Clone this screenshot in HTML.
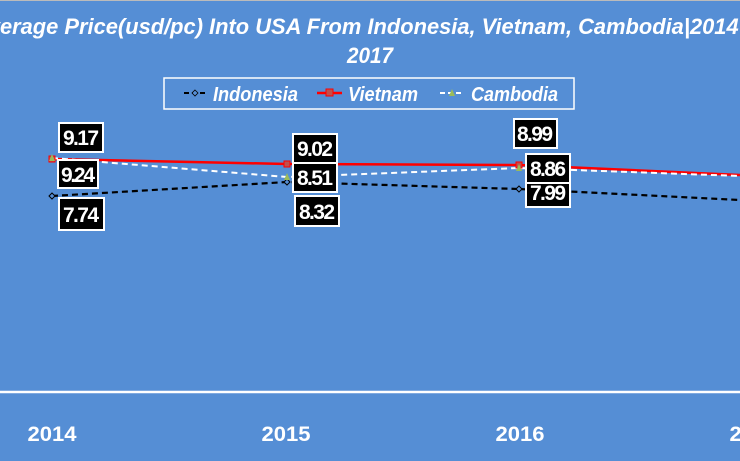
<!DOCTYPE html>
<html><head><style>
html,body{margin:0;padding:0;background:#558ed5;}
svg{display:block;}
text{font-family:"Liberation Sans",sans-serif;font-weight:bold;fill:#fff;}
</style></head><body>
<svg width="740" height="461" viewBox="0 0 740 461">
<rect width="740" height="461" fill="#558ed5"/>
<line x1="0" y1="0.5" x2="740" y2="0.5" stroke="#bbb"/>
<text x="-28" y="34" font-size="22" font-style="italic" textLength="780" lengthAdjust="spacingAndGlyphs">Average Price(usd/pc) Into USA From Indonesia, Vietnam, Cambodia|2014 -</text>
<text x="370" y="63" font-size="22" font-style="italic" text-anchor="middle" textLength="46" lengthAdjust="spacingAndGlyphs">2017</text>
<rect x="164" y="78" width="410" height="31" fill="none" stroke="#fff" stroke-width="1.5"/>
<line x1="184" y1="93" x2="206" y2="93" stroke="#000" stroke-width="2" stroke-dasharray="5,3"/>
<path d="M195 90 L198 93 L195 96 L192 93Z" fill="#558ed5" stroke="#000" stroke-width="0.8"/>
<text x="213" y="101" font-size="20" font-style="italic" textLength="85" lengthAdjust="spacingAndGlyphs">Indonesia</text>
<line x1="317" y1="93" x2="342" y2="93" stroke="#f00" stroke-width="2.5"/>
<rect x="326" y="89" width="7" height="7" fill="#c0504d" stroke="#f00"/>
<text x="348" y="101" font-size="20" font-style="italic" textLength="70" lengthAdjust="spacingAndGlyphs">Vietnam</text>
<line x1="440" y1="93" x2="464" y2="93" stroke="#fff" stroke-width="2" stroke-dasharray="5,3"/>
<path d="M452 89 L455 96 L449 96Z" fill="#9bbb59"/>
<text x="471" y="101" font-size="20" font-style="italic" textLength="87" lengthAdjust="spacingAndGlyphs">Cambodia</text>
<line x1="0" y1="392" x2="740" y2="392" stroke="#fff" stroke-width="2.5"/>
<polyline points="52,196 287,182 519,189 740,200" fill="none" stroke="#000" stroke-width="2.2" stroke-dasharray="6,4"/>
<polyline points="52,159 287,164 519,165 740,175" fill="none" stroke="#f00" stroke-width="2.5"/>
<polyline points="52,158 287,177 519,168 740,176" fill="none" stroke="#fff" stroke-width="2" stroke-dasharray="6,4"/>
<path d="M52 193 L55 196 L52 199 L49 196Z M287 179 L290 182 L287 185 L284 182Z M519 186 L522 189 L519 192 L516 189Z" fill="#558ed5" stroke="#000"/>
<rect x="49" y="156" width="6" height="6" fill="#c0504d" stroke="#f00"/><rect x="284" y="161" width="6" height="6" fill="#c0504d" stroke="#f00"/><rect x="516" y="162" width="6" height="6" fill="#c0504d" stroke="#f00"/>
<path d="M52 154 L55 161 L49 161Z M287 173 L290 180 L284 180Z M519 164 L522 171 L516 171Z" fill="#9bbb59"/>
<g stroke="#fff" stroke-width="2" fill="#000">
<rect x="59" y="123" width="44" height="29"/>
<rect x="58" y="160" width="40" height="28"/>
<rect x="59" y="198" width="45" height="32"/>
<rect x="293" y="134" width="44" height="29"/>
<rect x="293" y="163" width="44" height="29"/>
<rect x="295" y="196" width="44" height="30"/>
<rect x="514" y="119" width="43" height="29"/>
<rect x="526" y="154" width="44" height="29"/>
<rect x="526" y="183" width="44" height="24"/>
</g>
<g font-size="21" text-anchor="middle" lengthAdjust="spacingAndGlyphs">
<text x="81" y="145" textLength="36">9.17</text>
<text x="78" y="182" textLength="34">9.24</text>
<text x="81" y="222" textLength="36">7.74</text>
<text x="315" y="156" textLength="36">9.02</text>
<text x="315" y="185" textLength="36">8.51</text>
<text x="317" y="219" textLength="36">8.32</text>
<text x="535" y="141" textLength="36">8.99</text>
<text x="548" y="176" textLength="36">8.86</text>
<text x="548" y="200" textLength="36">7.99</text>
</g>
<g font-size="21" text-anchor="middle">
<text x="52" y="441" textLength="49" lengthAdjust="spacingAndGlyphs">2014</text>
<text x="286" y="441" textLength="49" lengthAdjust="spacingAndGlyphs">2015</text>
<text x="520" y="441" textLength="49" lengthAdjust="spacingAndGlyphs">2016</text>
<text x="754" y="441" textLength="49" lengthAdjust="spacingAndGlyphs">2017</text>
</g>
</svg>
</body></html>
